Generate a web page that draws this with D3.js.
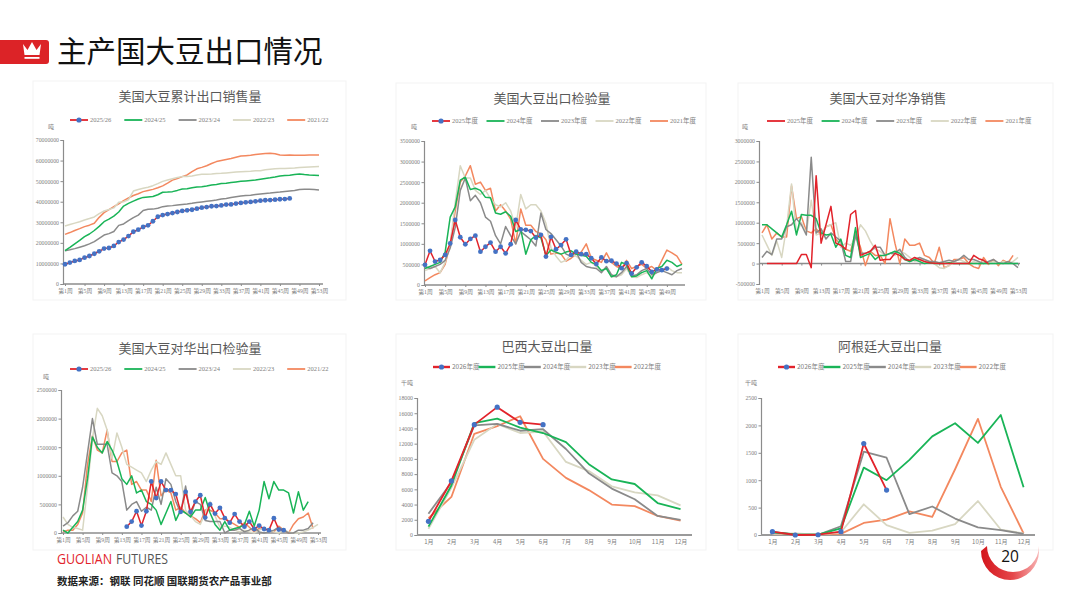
<!DOCTYPE html>
<html>
<head>
<meta charset="utf-8">
<script src="https://cdn.jsdelivr.net/npm/d3@7/dist/d3.min.js"></script>
<style>
body { margin: 0; background: #fff; }
svg { display: block; }
</style>
</head>
<body>
<svg id="slide" width="1080" height="608"></svg>
<script>
/* Slide: 主产国大豆出口情况 - six small line charts drawn with d3.
   Weekly charts share one draw function, the monthly ones another. */
const SANS = '"Noto Sans CJK SC", "Noto Sans", sans-serif';
const SERIF = '"Liberation Serif", "DejaVu Serif", "Noto Sans CJK SC", serif';
const colors = {
    red: '#e2232b',
    green: '#19b457',
    gray: '#8a8a8a',
    beige: '#d8d7c2',
    orange: '#f3885f',
    marker: '#4472c4',
    axis: '#8c8c8c',
    label: '#808080',
    title: '#595959'
};

// ---- tick labels / categories ----
const weekTicks = [1, 5, 9, 13, 17, 21, 25, 29, 33, 37, 41, 45, 49, 53];
const monthLabels = ['1月', '2月', '3月', '4月', '5月', '6月', '7月', '8月', '9月', '10月', '11月', '12月'];
const seasonNames = ['2025/26', '2024/25', '2023/24', '2022/23', '2021/22'];
const yearNamesUS = ['2025年度', '2024年度', '2023年度', '2022年度', '2021年度'];
const yearNamesSA = ['2026年度', '2025年度', '2024年度', '2023年度', '2022年度'];

// ---- 美国大豆累计出口销售量 (百万吨) ----
const cum2526 = [9.6, 10.4, 11.2, 11.7, 12.8, 13.6, 14.7, 15.9, 17.2, 17.5, 18.5, 20.4, 21.6, 23.3, 25.4, 26.4, 27.7, 28.5, 30.5, 32.7,
    33.5, 34.0, 34.5, 35.0, 35.5, 35.8, 36.1, 36.6, 37.1, 37.4, 37.8, 37.9, 38.2, 38.6, 38.7, 39.1, 39.4, 39.7, 39.9, 40.2,
    40.5, 40.7, 40.8, 41.0, 41.2, 41.3, 41.6];
const cum2425 = [16.2, 17.8, 19.5, 21.2, 23.0, 24.3, 26.0, 28.0, 30.3, 31.5, 33.0, 35.0, 37.9, 39.2, 40.3, 41.3, 42.1, 42.3, 42.5, 43.4,
    44.6, 44.7, 44.9, 45.5, 46.2, 46.3, 46.8, 47.2, 47.3, 47.6, 48.1, 48.4, 48.8, 49.0, 49.3, 49.6, 49.9, 50.1, 50.3, 50.5,
    50.9, 51.3, 51.6, 52.0, 52.5, 52.7, 52.9, 53.2, 53.5, 53.2, 53.0, 52.9, 52.8];
const cum2324 = [16.2, 16.6, 17.2, 17.9, 18.6, 19.5, 20.6, 22.2, 23.8, 24.5, 25.5, 28.5, 29.2, 30.8, 32.3, 33.5, 35.7, 36.3, 36.4, 36.8,
    37.6, 37.9, 38.1, 38.4, 38.7, 38.9, 39.2, 39.6, 39.9, 40.2, 40.5, 40.8, 41.3, 41.6, 42.0, 42.4, 42.8, 43.0, 43.2, 43.5,
    43.8, 44.0, 44.2, 44.5, 44.7, 45.0, 45.2, 45.4, 45.9, 46.1, 46.0, 45.9, 45.7];
const cum2223 = [28.2, 28.9, 29.6, 30.3, 31.1, 31.8, 32.6, 34.2, 35.5, 36.2, 37.0, 39.7, 40.0, 41.0, 45.2, 45.9, 46.5, 47.0, 47.8, 48.8,
    49.9, 50.6, 51.2, 51.8, 52.2, 52.3, 52.5, 53.0, 53.3, 53.4, 53.5, 53.7, 53.8, 54.0, 54.2, 54.4, 54.6, 54.7, 54.8, 55.0,
    55.1, 55.5, 55.8, 56.0, 56.1, 56.2, 56.3, 56.4, 56.6, 56.8, 56.9, 57.0, 57.1];
const cum2122 = [24.1, 25.0, 26.0, 26.9, 27.9, 28.6, 29.5, 32.4, 34.7, 36.2, 37.6, 39.0, 40.5, 41.8, 43.0, 43.9, 44.9, 45.5, 46.0, 46.8,
    47.7, 49.0, 50.5, 51.3, 52.2, 53.0, 54.6, 56.0, 56.7, 57.5, 58.6, 59.5, 60.0, 60.5, 61.0, 61.6, 62.2, 62.4, 62.6, 62.9,
    63.2, 63.4, 63.5, 63.3, 62.7, 62.6, 62.7, 62.6, 62.6, 62.6, 62.7, 62.7, 62.7];

// ---- 美国大豆出口检验量 (百万吨) ----
const insp2025 = [0.49, 0.83, 0.57, 0.61, 0.73, 1.01, 1.58, 1.16, 0.99, 1.12, 1.20, 0.81, 0.93, 1.03, 0.81, 0.93, 0.77, 0.99, 1.58, 1.35,
    1.34, 1.31, 1.15, 1.22, 0.69, 1.17, 0.87, 0.97, 1.11, 0.73, 0.81, 0.75, 0.75, 0.65, 0.51, 0.67, 0.58, 0.59, 0.52, 0.41,
    0.53, 0.28, 0.43, 0.55, 0.46, 0.32, 0.38, 0.36, 0.40];
const insp2024 = [0.40, 0.45, 0.50, 0.55, 0.80, 1.65, 1.90, 2.55, 2.62, 2.32, 2.35, 2.30, 2.13, 2.12, 1.75, 1.72, 1.78, 1.67, 1.30, 1.35,
    0.75, 1.10, 1.20, 1.15, 0.72, 0.85, 0.80, 0.75, 0.80, 0.83, 0.75, 0.72, 0.70, 0.55, 0.50, 0.35, 0.40, 0.20, 0.25, 0.55,
    0.50, 0.20, 0.22, 0.30, 0.35, 0.15, 0.40, 0.45, 0.60, 0.55, 0.45, 0.50];
const insp2023 = [0.45, 0.40, 0.45, 0.50, 0.60, 0.90, 1.40, 2.30, 2.60, 2.05, 2.18, 2.00, 1.65, 1.55, 1.20, 1.00, 1.42, 1.20, 1.00, 1.30,
    1.20, 1.10, 0.95, 1.75, 1.35, 1.25, 1.10, 0.95, 0.75, 0.70, 0.80, 0.55, 0.45, 0.42, 0.40, 0.30, 0.45, 0.25, 0.20, 0.30,
    0.45, 0.22, 0.25, 0.35, 0.40, 0.25, 0.30, 0.35, 0.30, 0.25, 0.35, 0.40];
const insp2022 = [0.35, 0.40, 0.45, 0.30, 0.55, 1.00, 2.00, 2.90, 2.60, 2.60, 2.30, 2.20, 2.30, 2.10, 1.95, 1.90, 2.00, 1.80, 1.40, 2.20,
    1.85, 1.95, 1.95, 1.80, 1.50, 0.90, 0.70, 0.55, 0.60, 0.75, 0.70, 0.60, 0.50, 0.55, 0.45, 0.35, 0.40, 0.20, 0.20, 0.25,
    0.40, 0.20, 0.18, 0.25, 0.30, 0.20, 0.30, 0.35, 0.45, 0.35, 0.30, 0.30];
const insp2021 = [0.10, 0.18, 0.25, 0.30, 0.50, 1.00, 1.80, 2.50, 2.65, 2.90, 2.45, 2.50, 2.30, 2.35, 1.80, 1.95, 1.80, 1.60, 1.00, 1.85,
    1.45, 1.45, 1.30, 1.25, 1.10, 0.75, 0.78, 0.75, 0.58, 0.65, 0.75, 0.80, 1.00, 0.65, 0.60, 0.55, 0.78, 0.55, 0.45, 0.40,
    0.60, 0.40, 0.45, 0.50, 0.40, 0.45, 0.35, 0.60, 0.85, 0.78, 0.70, 0.50];

// ---- 美国大豆对华净销售 (百万吨) ----
const net2025 = [null, 0, 0, 0, 0, 0, 0, 0, 0.22, 0.22, -0.10, 2.15, 0.50, 0.95, 1.40, 0.50, 0.45, 0.35, 1.20, 1.30,
    0.20, 0.25, 0.30, 0.45, 0.08, 0.10, 0.10, 0.25, 0.20, 0.10, 0.08, 0.15, 0.10, 0.05, 0.02, 0.01, 0, 0, 0, 0,
    0, 0, 0, 0.20, 0.12, 0.08, 0];
const net2024 = [0.95, 0.95, 0.85, 0.75, 0.65, 0.95, 1.28, 0.70, 1.20, 1.18, 1.18, 1.10, 0.75, 0.70, 0.72, 0.40, 0.60, 0.20, 0.15, 0.88,
    0.15, 0.20, 0.25, 0.10, 0.20, 0.20, 0.25, 0.30, 0.25, 0.10, 0.05, 0.10, 0.05, 0, 0.02, 0, 0, 0, 0.02, 0,
    0, 0, 0, 0, 0, 0, 0, 0, 0, 0, 0, 0, 0];
const net2023 = [0.15, 0.30, 0.22, 0.60, 0.60, 0.90, 0.95, 1.10, 0.95, 0.70, 2.60, 0.75, 0.85, 0.60, 0.75, 0.65, 0.55, 0.05, 0.05, 0.70,
    0.25, 0.25, 0.30, 0.40, 0.40, 0.20, 0.25, 0.25, 0.35, 0.15, 0.05, 0.10, 0.15, 0.10, 0.05, 0.05, 0.02, 0.05, 0.08, 0.05,
    0.10, 0.20, 0.10, 0.10, 0.05, 0, 0.05, 0.10, 0.02, 0, 0.05, 0, -0.10];
const net2022 = [0.70, 0.45, 0.20, 0.55, 0.15, 0.90, 1.95, 0.75, 1.00, 0.75, 1.55, 0.70, 0.75, 0.90, 0.95, 1.00, 0.40, 0.50, 0.45, 0.60,
    0.95, 0.80, 0.55, 0.35, 0.30, 0.20, 0.25, 0.20, 0.30, 0.25, 0.15, 0.05, 0.10, 0.10, 0.05, 0, -0.10, -0.12, -0.05, 0.05,
    0.10, 0.05, 0, 0.05, 0, 0.05, 0, 0.05, 0, 0.05, 0, 0.05, 0.15];
const net2021 = [0.75, 0.95, 0.60, 0.75, 0.65, 0.65, 1.90, 1.10, 1.15, 0.80, 0.75, 0.85, 0.70, 0.90, 0.95, 0.60, 0.45, 0.35, 0.30, 0.75,
    0.40, -0.05, 0.30, 0.20, 0.20, 0, 1.10, 0.50, 0, 0.60, 0.45, 0.45, 0.50, 0.20, 0.15, 0, 0.40, -0.10, -0.05, 0.10,
    0.10, 0.15, 0, -0.08, -0.12, 0.15, -0.02, 0.10, -0.05, 0.08, 0.02, 0.20];

// ---- 美国大豆对华出口检验量 (百万吨) ----
const cn2526 = [null, null, null, null, null, null, null, null, null, null, null, null, null,
    0.11, 0.20, 0.38, 0.13, 0.38, 0.90, 0.61, 0.90, 0.75, 0.75, 0.68, 0.37, 0.72, 0.37, 0.55, 0.66, 0.27,
    0.50, 0.34, 0.44, 0.26, 0.18, 0.33, 0.20, 0.11, 0.20, 0.07, 0.13, 0.07, 0.05, 0.26, 0.06, 0.05];
const cn2425 = [0.05, 0, 0.10, 0.20, 0.40, 0.95, 1.68, 1.50, 1.40, 1.60, 1.45, 1.25, 0.95, 0.85, 1.00, 0.70, 0.75, 0.55, 0.50, 0.40,
    0.15, 0.35, 0.55, 0.22, 0.40, 0.35, 0.28, 0.40, 0.40, 0.62, 0.35, 0.15, 0.05, 0.20, 0.05, 0.08, 0.10, 0.15, 0.38, 0.12,
    0.40, 0.90, 0.60, 0.90, 0.75, 0.75, 0.70, 0.35, 0.72, 0.40, 0.55];
const cn2324 = [0.12, 0.18, 0.30, 0.38, 0.80, 1.40, 2.00, 1.55, 1.55, 1.55, 1.05, 1.00, 0.90, 0.40, 0.50, 0.55, 0.38, 0.45, 0.40, 0.80,
    0.50, 0.95, 0.85, 0.55, 0.35, 0.82, 0.30, 0.55, 0.50, 0.22, 0.20, 0.20, 0.20, 0, 0.05, 0.05, 0.08, 0.02, 0.05, 0.10,
    0.02, 0, 0.02, 0.05, 0.10, 0.05, 0, 0, 0.05, 0.05, 0.08, 0.18];
const cn2223 = [0.28, 0.15, 0.10, 0.08, 0.05, 0.80, 1.65, 2.18, 2.05, 1.80, 1.30, 1.75, 1.50, 1.20, 1.15, 1.10, 1.05, 0.90, 1.10, 1.25,
    1.20, 1.40, 1.20, 1.00, 1.00, 0.40, 0.30, 0.20, 0.15, 0.35, 0.55, 0.30, 0.10, 0.12, 0.10, 0.05, 0.02, 0.05, 0.02, 0,
    0.05, 0.10, 0.05, 0.02, 0, 0.05, 0.02, 0, 0, 0.02, 0.05, 0.10, 0.15];
const cn2122 = [0.02, 0.05, 0.05, 0.15, 0.35, 1.20, 1.70, 1.45, 1.40, 1.80, 1.25, 1.25, 1.40, 1.45, 0.85, 0.90, 0.75, 0.75, 0.55, 1.27,
    0.65, 0.75, 0.70, 0.40, 0.45, 0.35, 0.30, 0.25, 0.18, 0.40, 0.40, 0.35, 0.25, 0.25, 0.20, 0.15, 0.10, 0.18, 0.10, 0.02,
    0.08, 0.08, 0.05, 0.02, 0.12, 0.05, 0, 0.15, 0.25, 0.28, 0.35, 0.08];

// ---- 巴西大豆出口量 (千吨) ----
const brazil2026 = [1800, 7100, 14500, 16800, 14800, 14500];
const brazil2025 = [1100, 6500, 14700, 15300, 14100, 13400, 12200, 9300, 7300, 6700, 4200, 3400];
const brazil2024 = [2800, 6900, 14400, 14600, 13700, 13900, 11300, 8100, 6100, 4700, 2500, 2000];
const brazil2023 = [800, 6200, 12500, 14600, 13400, 13600, 9600, 8400, 6400, 5600, 5200, 3900];
const brazil2022 = [2200, 5000, 13300, 14300, 15600, 10000, 7500, 5900, 4000, 3800, 2500, 1900];

// ---- 阿根廷大豆出口量 (千吨) ----
const arg2026 = [60, 0, 5, 60, 1670, 820];
const arg2025 = [50, 10, 5, 120, 1230, 1000, 1370, 1800, 2040, 1680, 2190, 870];
const arg2024 = [50, 10, 5, 160, 1520, 1410, 380, 520, 300, 140, 90, 20];
const arg2023 = [20, 30, 5, 50, 560, 180, 40, 80, 200, 620, 100, 30];
const arg2022 = [20, 15, 10, 20, 220, 280, 430, 330, 1200, 2120, 880, 30];

const MT = 1e6;  // weekly arrays are kept in million tonnes
const seriesColors = [colors.red, colors.green, colors.gray, colors.beige, colors.orange];

const svg = d3.select('#slide');

/* ---------- slide frame ---------- */
function drawFrame() {
    svg.append('rect').attr('x', -6).attr('y', 40).attr('width', 55).attr('height', 24)
        .attr('rx', 3).attr('fill', '#dc2327');
    // crown
    svg.append('path')
        .attr('d', 'M23,44 L27.5,50 L32,42 L36.5,50 L41,44 L39.5,55 L24.5,55 Z')
        .attr('fill', '#fff');
    svg.append('rect').attr('x', 24.5).attr('y', 57).attr('width', 15).attr('height', 1.8).attr('fill', '#fff');
    svg.append('text').attr('x', 57).attr('y', 62)
        .attr('font-family', SANS).attr('font-size', 29.5).attr('fill', '#111')
        .text('主产国大豆出口情况');

    // panel outlines
    [[33, 81, 313, 219], [396, 83, 310, 217], [738, 83, 315, 217],
     [33, 334, 313, 216], [396, 334, 310, 216], [738, 334, 315, 216]].forEach(([x, y, w, h]) => {
        svg.append('rect').attr('x', x).attr('y', y).attr('width', w).attr('height', h)
            .attr('fill', 'none').attr('stroke', '#f3f3f3');
    });

    // brand: two words, each squeezed to the width it has on the slide
    [['GUOLIAN', 57, 55, '#e2232b'], ['FUTURES', 116, 52, '#555']].forEach(([word, x, w, c]) => {
        svg.append('text').attr('x', x).attr('y', 564)
            .attr('font-family', '"Open Sans", Roboto, sans-serif').attr('font-size', 14)
            .attr('textLength', w).attr('lengthAdjust', 'spacingAndGlyphs')
            .attr('fill', c).text(word);
    });

    svg.append('text').attr('x', 57).attr('y', 585)
        .attr('font-family', SANS).attr('font-size', 10.5).attr('font-weight', 'bold').attr('fill', '#222')
        .text('数据来源：钢联  同花顺  国联期货农产品事业部');

    // page number badge: a crescent, thick on the lower left, thin on the right
    let grad = svg.append('defs').append('linearGradient').attr('id', 'badge')
        .attr('x1', '0').attr('y1', '0').attr('x2', '1').attr('y2', '0');
    grad.append('stop').attr('offset', '0').attr('stop-color', '#d3161c');
    grad.append('stop').attr('offset', '0.55').attr('stop-color', '#e5474b');
    grad.append('stop').attr('offset', '1').attr('stop-color', '#f7b3b3');
    svg.append('path')
        .attr('d', 'M981,551 A29,29 0 0 0 1039,551 L1039,546 A26,26 0 0 1 987,546 Z')
        .attr('fill', 'url(#badge)');
    svg.append('text').attr('x', 1010).attr('y', 562).attr('text-anchor', 'middle')
        .attr('font-family', '"Open Sans", sans-serif').attr('font-size', 15.5).attr('fill', '#111')
        .text('20');
}

/* ---------- shared pieces ---------- */
function drawTitle(g, cfg) {
    g.append('text').attr('x', cfg.titleX).attr('y', cfg.titleY).attr('text-anchor', 'middle')
        .attr('font-family', SANS).attr('font-size', 13).attr('fill', colors.title)
        .text(cfg.title);
    g.append('text').attr('x', cfg.unitX).attr('y', cfg.unitY)
        .attr('font-family', SANS).attr('font-size', 6).attr('fill', colors.label)
        .text(cfg.unit);
}

function drawLegend(g, cfg) {
    cfg.names.forEach((name, i) => {
        let lx = cfg.legendX + i * cfg.legendStep;
        let item = g.append('g').attr('transform', `translate(${lx},${cfg.legendY})`);
        item.append('line').attr('x1', 0).attr('x2', cfg.legendLine).attr('y1', 0).attr('y2', 0)
            .attr('stroke', seriesColors[i]).attr('stroke-width', cfg.legendWidth);
        if (i === 0 && cfg.markers) {
            item.append('circle').attr('cx', cfg.legendLine / 2).attr('cy', 0).attr('r', 2.6)
                .attr('fill', colors.marker);
        }
        item.append('text').attr('x', cfg.legendLine + 2).attr('y', 2.3)
            .attr('font-family', cfg.legendFont).attr('font-size', 6.5).attr('fill', colors.label)
            .text(name);
    });
}

function drawYAxis(g, cfg, y) {
    let axis = g.append('g').attr('transform', `translate(${cfg.x0},0)`)
        .call(d3.axisLeft(y).tickValues(d3.range(cfg.yMin, cfg.yMax + 1, cfg.yStep))
            .tickSize(2.5).tickPadding(1.5).tickFormat(d => String(Math.round(d))));
    axis.select('.domain').attr('stroke', colors.axis).attr('stroke-width', 1.2);
    axis.selectAll('.tick line').attr('stroke', colors.axis);
    axis.selectAll('text').attr('font-family', SERIF).attr('font-size', 5.8).attr('fill', colors.label);
}

function drawLines(g, cfg, xOf, y) {
    let line = d3.line()
        .defined(d => d != null)
        .x((d, i) => xOf(i))
        .y(d => y(d * cfg.scaleBy));
    // draw oldest first so the current season sits on top
    for (let i = cfg.series.length - 1; i >= 0; i--) {
        g.append('path').datum(cfg.series[i])
            .attr('fill', 'none').attr('stroke', seriesColors[i])
            .attr('stroke-width', cfg.lineWidth).attr('stroke-linejoin', 'round')
            .attr('d', line);
    }
    if (cfg.markers) {
        g.selectAll('circle.pt').data(cfg.series[0].map((d, i) => [i, d]).filter(p => p[1] != null))
            .join('circle').attr('class', 'pt')
            .attr('cx', p => xOf(p[0])).attr('cy', p => y(p[1] * cfg.scaleBy))
            .attr('r', cfg.markerR).attr('fill', colors.marker);
    }
}

/* ---------- weekly chart ---------- */
function drawWeekChart(cfg) {
    let g = svg.append('g');
    let x = d3.scaleLinear().domain([1, cfg.weeks]).range([cfg.xFirst, cfg.xLast]);
    let y = d3.scaleLinear().domain([cfg.yMin, cfg.yMax]).range([cfg.y1, cfg.y0]);

    drawTitle(g, cfg);
    drawLegend(g, cfg);
    drawYAxis(g, cfg, y);

    // category axis sits on zero, labels always at the bottom
    let zeroY = y(0);
    g.append('line').attr('x1', cfg.x0).attr('x2', cfg.x1).attr('y1', zeroY).attr('y2', zeroY)
        .attr('stroke', colors.axis).attr('stroke-width', 1.5);
    let xAxis = g.append('g').attr('transform', `translate(0,${zeroY})`)
        .call(d3.axisBottom(x).tickValues(weekTicks.filter(w => w <= cfg.weeks))
            .tickSize(2).tickFormat(w => '第' + w + '周'));
    xAxis.select('.domain').remove();
    xAxis.selectAll('.tick line').attr('stroke', colors.axis);
    xAxis.selectAll('text').attr('y', cfg.y1 - zeroY + 5)
        .attr('font-family', SERIF).attr('font-size', 5.8).attr('fill', colors.label);

    drawLines(g, cfg, i => x(i + 1), y);
}

/* ---------- monthly chart ---------- */
function drawMonthChart(cfg) {
    let g = svg.append('g');
    let x = d3.scalePoint().domain(monthLabels).range([cfg.x0, cfg.x1]).padding(0.5);
    let y = d3.scaleLinear().domain([cfg.yMin, cfg.yMax]).range([cfg.y1, cfg.y0]);

    drawTitle(g, cfg);
    drawLegend(g, cfg);
    drawYAxis(g, cfg, y);

    let xAxis = g.append('g').attr('transform', `translate(0,${cfg.y1})`)
        .call(d3.axisBottom(x).tickSize(0).tickPadding(5));
    xAxis.select('.domain').remove();
    g.append('line').attr('x1', cfg.x0).attr('x2', cfg.x1).attr('y1', cfg.y1).attr('y2', cfg.y1)
        .attr('stroke', '#9a9a9a').attr('stroke-width', 2);
    xAxis.selectAll('text').attr('font-family', SANS).attr('font-size', 6).attr('fill', colors.label);

    drawLines(g, cfg, i => x(monthLabels[i]), y);
}

const weekStyle = {
    legendLine: 18, legendWidth: 1.8, legendFont: SERIF, lineWidth: 1.5,
    markers: true, markerR: 2.4, scaleBy: MT
};
const monthStyle = {
    legendLine: 17, legendWidth: 2.4, legendFont: SANS, lineWidth: 1.8,
    markers: true, markerR: 2.6, scaleBy: 1, legendStep: 45.4, legendY: 367,
    yMin: 0, unit: '千吨', unitY: 385
};

drawFrame();

drawWeekChart({...weekStyle,
    title: '美国大豆累计出口销售量', titleX: 190, titleY: 101, unit: '吨', unitX: 48, unitY: 129,
    names: seasonNames, series: [cum2526, cum2425, cum2324, cum2223, cum2122],
    legendX: 70, legendStep: 54.3, legendY: 120,
    weeks: 53, xFirst: 65, xLast: 319, x0: 63, x1: 323, y0: 140, y1: 284,
    yMin: 0, yMax: 70000000, yStep: 10000000
});

drawWeekChart({...weekStyle,
    title: '美国大豆出口检验量', titleX: 552, titleY: 103, unit: '吨', unitX: 411, unitY: 129,
    names: yearNamesUS, series: [insp2025, insp2024, insp2023, insp2022, insp2021],
    legendX: 432, legendStep: 54.5, legendY: 121,
    weeks: 52, xFirst: 425, xLast: 682, x0: 424, x1: 685, y0: 141, y1: 285,
    yMin: 0, yMax: 3500000, yStep: 500000
});

drawWeekChart({...weekStyle, markers: false,
    title: '美国大豆对华净销售', titleX: 888, titleY: 103, unit: '吨', unitX: 742, unitY: 129,
    names: yearNamesUS, series: [net2025, net2024, net2023, net2022, net2021],
    legendX: 767, legendStep: 54.6, legendY: 121,
    weeks: 53, xFirst: 762, xLast: 1018, x0: 759, x1: 1020, y0: 141, y1: 284,
    yMin: -500000, yMax: 3000000, yStep: 500000
});

drawWeekChart({...weekStyle,
    title: '美国大豆对华出口检验量', titleX: 190, titleY: 353, unit: '吨', unitX: 43, unitY: 379,
    names: seasonNames, series: [cn2526, cn2425, cn2324, cn2223, cn2122],
    legendX: 70, legendStep: 54.3, legendY: 369,
    weeks: 53, xFirst: 63, xLast: 318, x0: 61, x1: 321, y0: 390, y1: 533,
    yMin: 0, yMax: 2500000, yStep: 500000
});

drawMonthChart({...monthStyle,
    title: '巴西大豆出口量', titleX: 547, titleY: 351, unitX: 401,
    names: yearNamesSA, series: [brazil2026, brazil2025, brazil2024, brazil2023, brazil2022],
    legendX: 433, x0: 417, x1: 692, y0: 398, y1: 535,
    yMax: 18000, yStep: 2000
});

drawMonthChart({...monthStyle,
    title: '阿根廷大豆出口量', titleX: 890, titleY: 351, unitX: 745,
    names: yearNamesSA, series: [arg2026, arg2025, arg2024, arg2023, arg2022],
    legendX: 778, x0: 761, x1: 1035, y0: 398, y1: 535,
    yMax: 2500, yStep: 500
});
</script>
</body>
</html>
